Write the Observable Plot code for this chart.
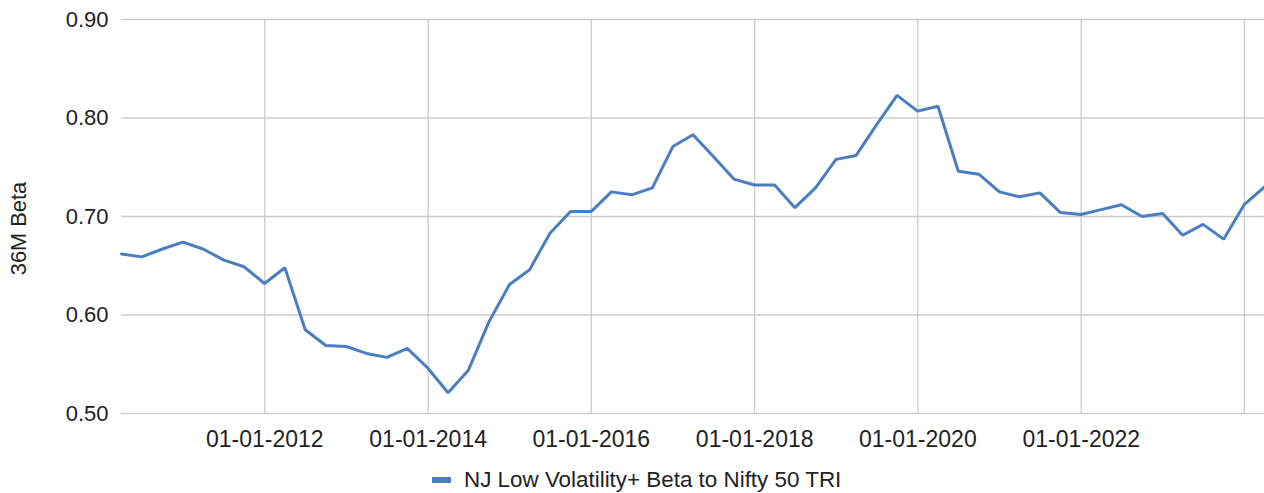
<!DOCTYPE html>
<html>
<head>
<meta charset="utf-8">
<script src="https://cdn.jsdelivr.net/npm/d3@7"></script>
<script src="https://cdn.jsdelivr.net/npm/@observablehq/plot@0.6"></script>
<style>
  html, body { margin: 0; padding: 0; background: #fff; }
  body { width: 1264px; height: 493px; overflow: hidden; font-family: "Liberation Sans", Arial, sans-serif; }
  #legend { display: flex; align-items: center; margin-left: 432px; margin-top: 7px; font-size: 22.4px; line-height: 25px; color: #222; white-space: nowrap; }
  #legend .sw { width: 19px; height: 6px; background: #4a7ec1; margin-right: 13px; }
</style>
</head>
<body>
<div id="chart"></div>
<div id="legend"><span class="sw"></span><span>NJ Low Volatility+ Beta to Nifty 50 TRI</span></div>
<script>
const seriesName = "NJ Low Volatility+ Beta to Nifty 50 TRI";
const yTitle = "36M Beta";
const dates = [
  "2010-03-31","2010-06-30","2010-09-30","2010-12-31",
  "2011-03-31","2011-06-30","2011-09-30","2011-12-31",
  "2012-03-31","2012-06-30","2012-09-30","2012-12-31",
  "2013-03-31","2013-06-30","2013-09-30","2013-12-31",
  "2014-03-31","2014-06-30","2014-09-30","2014-12-31",
  "2015-03-31","2015-06-30","2015-09-30","2015-12-31",
  "2016-03-31","2016-06-30","2016-09-30","2016-12-31",
  "2017-03-31","2017-06-30","2017-09-30","2017-12-31",
  "2018-03-31","2018-06-30","2018-09-30","2018-12-31",
  "2019-03-31","2019-06-30","2019-09-30","2019-12-31",
  "2020-03-31","2020-06-30","2020-09-30","2020-12-31",
  "2021-03-31","2021-06-30","2021-09-30","2021-12-31",
  "2022-03-31","2022-06-30","2022-09-30","2022-12-31",
  "2023-03-31","2023-06-30","2023-09-30","2023-12-31",
  "2024-03-31"
];
const beta = [
  0.662, 0.659, 0.667, 0.674,
  0.667, 0.656, 0.649, 0.632,
  0.648, 0.585, 0.569, 0.568,
  0.561, 0.557, 0.566, 0.546,
  0.521, 0.544, 0.593, 0.631,
  0.646, 0.683, 0.705, 0.705,
  0.725, 0.722, 0.729, 0.771,
  0.783, 0.761, 0.738, 0.732,
  0.732, 0.709, 0.729, 0.758,
  0.762, 0.793, 0.823, 0.807,
  0.812, 0.746, 0.743, 0.725,
  0.720, 0.724, 0.704, 0.702,
  0.707, 0.712, 0.700, 0.703,
  0.681, 0.692, 0.677, 0.712,
  0.730
];
const yTicks = [0.5, 0.6, 0.7, 0.8, 0.9];
const xGridDates = ["2012-01-01","2014-01-01","2016-01-01","2018-01-01","2020-01-01","2022-01-01","2024-01-01"];
const xTickDates = ["2012-01-01","2014-01-01","2016-01-01","2018-01-01","2020-01-01","2022-01-01"];

const parse = d3.utcParse("%Y-%m-%d");
const data = dates.map((d, i) => ({date: parse(d), value: beta[i]}));
const gridX = xGridDates.map(parse);
const tickX = xTickDates.map(parse);
const fmtX = d3.utcFormat("%d-%m-%Y");

const chart = Plot.plot({
  width: 1264,
  height: 460,
  marginTop: 19,
  marginBottom: 47,
  marginLeft: 121,
  marginRight: 0,
  style: {fontFamily: "'Liberation Sans', Arial, sans-serif", fontSize: "22px", color: "#222", background: "#fff", overflow: "visible"},
  x: {type: "utc", domain: [parse(dates[0]), parse(dates[dates.length - 1])], label: null},
  y: {domain: [0.5, 0.9], label: null},
  marks: [
    Plot.ruleX(gridX, {stroke: "#cccccc", strokeWidth: 1.3}),
    Plot.ruleY(yTicks, {stroke: "#cccccc", strokeWidth: 1.3}),
    Plot.line(data, {x: "date", y: "value", stroke: "#4a7ec1", strokeWidth: 3, strokeLinejoin: "miter"}),
    Plot.axisX(tickX, {tickFormat: fmtX, tickSize: 0, tickPadding: 17, fontSize: 23, label: null}),
    Plot.axisY(yTicks, {tickFormat: d3.format(".2f"), tickSize: 0, tickPadding: 13, fontSize: 22, label: null}),
    Plot.text([yTitle], {frameAnchor: "left", rotate: -90, dx: -102, dy: 12, fontSize: 21.8, fill: "#222", textAnchor: "middle", lineAnchor: "middle"})
  ]
});
document.getElementById("chart").appendChild(chart);
</script>
</body>
</html>
